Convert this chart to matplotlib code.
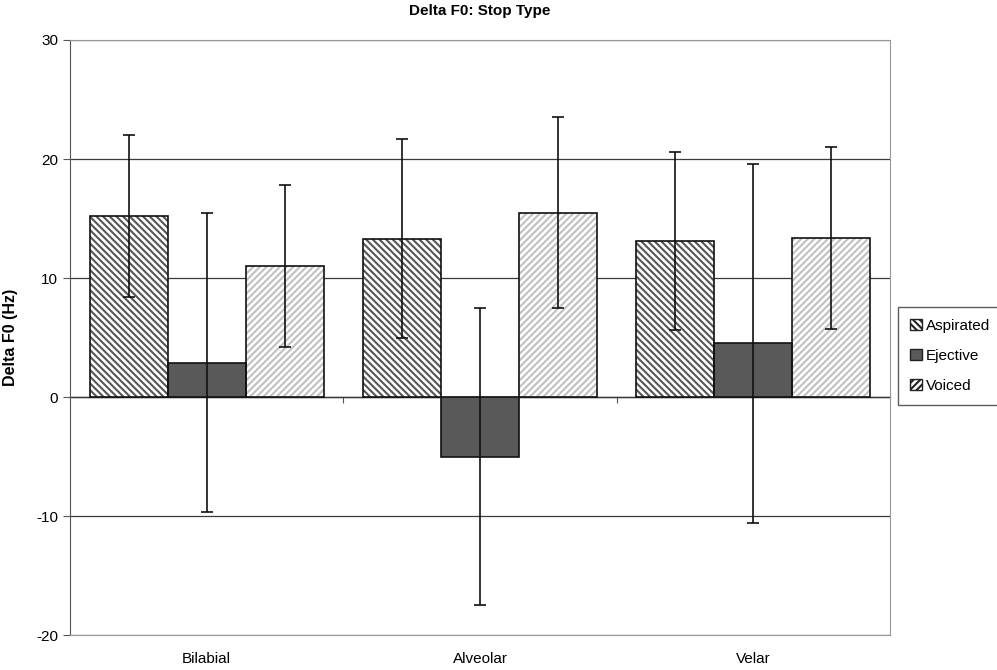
import matplotlib
matplotlib.use("Agg")
import matplotlib.pyplot as plt
import numpy as np

plt.rcParams['font.family'] = ['Liberation Sans', 'DejaVu Sans']
plt.rcParams['hatch.linewidth'] = 1.5
plt.rcParams['axes.unicode_minus'] = False

categories = ['Bilabial', 'Alveolar', 'Velar']
series = ['Aspirated', 'Ejective', 'Voiced']
means = {
    'Aspirated': [15.2, 13.3, 13.1],
    'Ejective': [2.9, -5.0, 4.5],
    'Voiced': [11.0, 15.5, 13.4],
}
errors = {
    'Aspirated': [6.8, 8.35, 7.5],
    'Ejective': [12.6, 12.45, 15.05],
    'Voiced': [6.8, 8.0, 7.65],
}

styles = {
    'Aspirated': dict(face='white', hatch='\\' * 5, hcol='#555555'),
    'Ejective': dict(face='#595959', hatch=None, hcol='#595959'),
    'Voiced': dict(face='white', hatch='/' * 5, hcol='#c0c0c0'),
}

fig = plt.figure(figsize=(9.97, 6.7), dpi=100)
ax = fig.add_axes([0.0702, 0.0522, 0.8225, 0.8881])

x = np.arange(len(categories))
w = 1 / 3.5
for i, s in enumerate(series):
    pos = x + (i - 1) * w
    st = styles[s]
    # hatch layer, then black outline on top
    ax.bar(pos, means[s], w, color=st['face'], hatch=st['hatch'],
           edgecolor=st['hcol'], linewidth=0, zorder=3)
    ax.bar(pos, means[s], w, facecolor='none', edgecolor='#111111',
           linewidth=1.2, zorder=4)
    ax.errorbar(pos, means[s], yerr=errors[s], fmt='none', ecolor='#111111',
                elinewidth=1.2, capsize=4, capthick=1.2, zorder=5)

ax.set_xlim(-0.5, 2.5)
ax.set_ylim(-20, 30)
ax.set_yticks([-20, -10, 0, 10, 20, 30])
ax.yaxis.grid(True, color='#3a3a3a', linewidth=0.9, zorder=0)
ax.set_axisbelow(True)
ax.set_xticks(x)
ax.set_xticklabels(categories, fontsize=11)
ax.tick_params(axis='x', length=0, pad=12)
ax.tick_params(axis='y', direction='out', length=5, labelsize=11, color='#555555')
for sp in ['top', 'right', 'bottom']:
    ax.spines[sp].set_color('#999999')
ax.spines['left'].set_color('#555555')

# category axis crosses at y=0
zero_axis = ax.secondary_xaxis(0.4)
zero_axis.set_xticks([0.5, 1.5])
zero_axis.set_xticklabels([])
zero_axis.tick_params(direction='out', length=4, color='#555555')
zero_axis.spines['bottom'].set_color('#444444')
zero_axis.spines['bottom'].set_linewidth(1.0)

ax.set_ylabel('Delta F0 (Hz)', fontsize=11.5, fontweight='bold')
ax.yaxis.set_label_coords(-0.064, 0.5)
ax.set_title('Delta F0: Stop Type', fontsize=11, fontweight='bold', pad=18)

leg_handles = []
for s in series:
    st = styles[s]
    leg_handles.append(plt.Rectangle((0, 0), 1, 1, facecolor=st['face'],
                       hatch=st['hatch'], edgecolor='#222222', linewidth=1))
leg = fig.legend(leg_handles, series, loc='upper left',
                 bbox_to_anchor=(0.9007, 0.542), fontsize=11, frameon=True,
                 fancybox=False, edgecolor='#333333', handlelength=0.75,
                 handleheight=0.75, handletextpad=0.25, labelspacing=1.05,
                 borderpad=0.8, borderaxespad=0)
leg.get_frame().set_linewidth(1.0)

fig.savefig('out.png', dpi=100)
